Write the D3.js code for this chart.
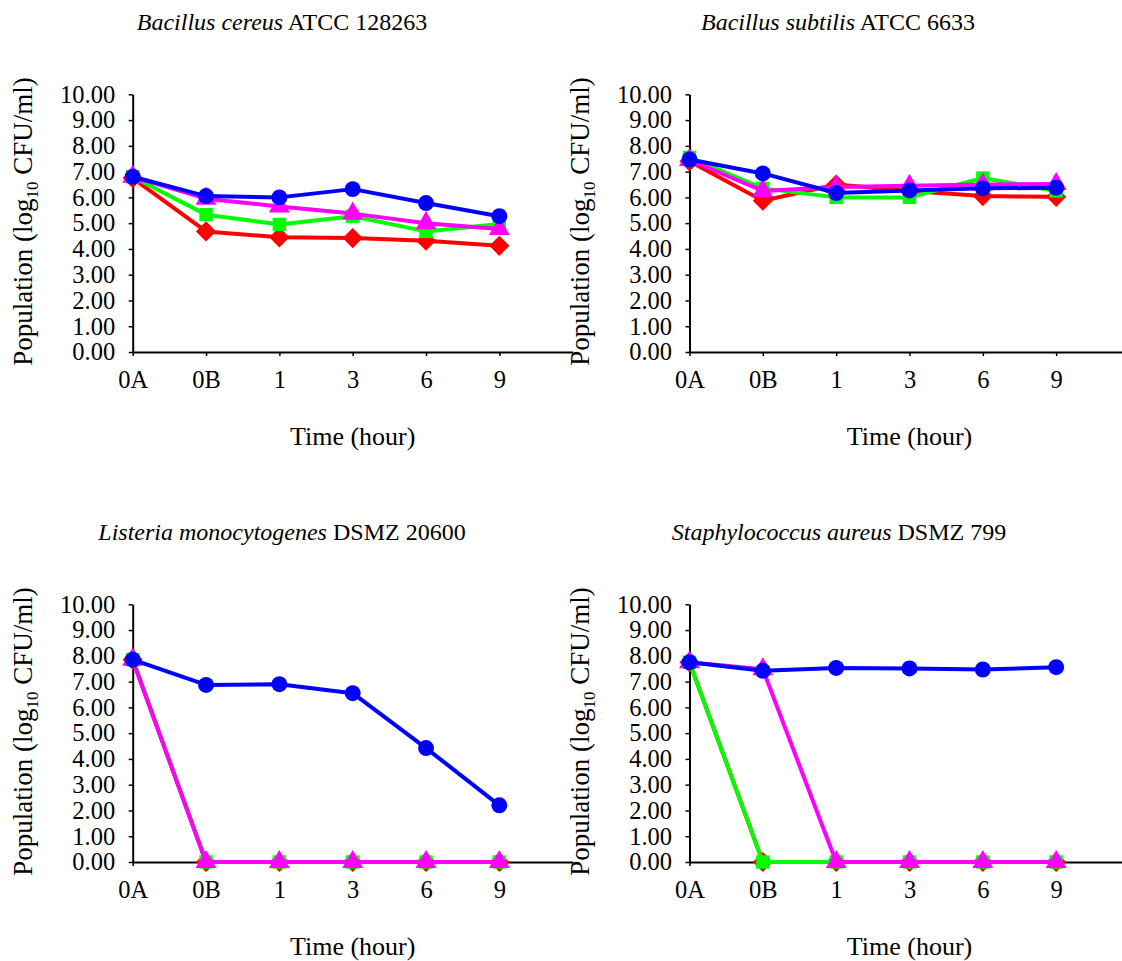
<!DOCTYPE html>
<html>
<head>
<meta charset="utf-8">
<script src="https://cdn.jsdelivr.net/npm/d3@7"></script>
<style>
  html, body { margin: 0; padding: 0; background: #fff; }
  svg text { font-family: "Liberation Serif", serif !important; fill: #000; }
</style>
</head>
<body>
<svg id="chart" width="1122" height="961"></svg>
<script>
// ---- Data ----
const categories = ["0A", "0B", "1", "3", "6", "9"];
const yTicks = [0, 1, 2, 3, 4, 5, 6, 7, 8, 9, 10];

const titlesItalic = ["Bacillus cereus", "Bacillus subtilis", "Listeria monocytogenes", "Staphylococcus aureus"];
const titlesPlain = [" ATCC 128263", " ATCC 6633", " DSMZ 20600", " DSMZ 799"];

// B. cereus ATCC 128263
const cereusRed     = [6.75, 4.68, 4.45, 4.42, 4.32, 4.12];
const cereusGreen   = [6.80, 5.33, 4.95, 5.27, 4.68, 4.97];
const cereusMagenta = [6.80, 5.95, 5.65, 5.37, 5.00, 4.77];
const cereusBlue    = [6.80, 6.05, 6.00, 6.32, 5.78, 5.27];

// B. subtilis ATCC 6633
const subtilisRed     = [7.40, 5.87, 6.50, 6.25, 6.05, 6.02];
const subtilisGreen   = [7.55, 6.35, 6.00, 6.00, 6.75, 6.25];
const subtilisMagenta = [7.45, 6.25, 6.40, 6.45, 6.50, 6.52];
const subtilisBlue    = [7.47, 6.93, 6.17, 6.27, 6.35, 6.37];

// L. monocytogenes DSMZ 20600
const listeriaRed     = [7.85, 0, 0, 0, 0, 0];
const listeriaGreen   = [7.85, 0, 0, 0, 0, 0];
const listeriaMagenta = [7.85, 0, 0, 0, 0, 0];
const listeriaBlue    = [7.85, 6.87, 6.90, 6.55, 4.42, 2.20];

// S. aureus DSMZ 799
const aureusRed     = [7.75, 0, 0, 0, 0, 0];
const aureusGreen   = [7.75, 0, 0, 0, 0, 0];
const aureusMagenta = [7.75, 7.48, 0, 0, 0, 0];
const aureusBlue    = [7.75, 7.42, 7.53, 7.51, 7.47, 7.56];

const panelSeries = [
  [cereusRed, cereusGreen, cereusMagenta, cereusBlue],
  [subtilisRed, subtilisGreen, subtilisMagenta, subtilisBlue],
  [listeriaRed, listeriaGreen, listeriaMagenta, listeriaBlue],
  [aureusRed, aureusGreen, aureusMagenta, aureusBlue]
];

const seriesColors = ["#FF0000", "#00FF00", "#FF00FF", "#0000FF"];
const seriesSymbols = [d3.symbolDiamond2, d3.symbolSquare, d3.symbolTriangle, d3.symbolCircle];
const symbolSizes = [260, 180, 190, 200];

// ---- Layout ----
const svg = d3.select("#chart");
const panels = [
  { x0: 132.7, y0: 352, titleCx: 282, titleY: 30 },
  { x0: 689.5, y0: 352, titleCx: 838, titleY: 30 },
  { x0: 132.7, y0: 862, titleCx: 282, titleY: 540 },
  { x0: 689.5, y0: 862, titleCx: 839, titleY: 540 }
];
const axisLen = 440;
const plotH = 257.7;

panels.forEach((p, pi) => {
  const g = svg.append("g");
  const x = d3.scaleLinear().domain([0, 6]).range([p.x0, p.x0 + axisLen]);
  const y = d3.scaleLinear().domain([0, 10]).range([p.y0, p.y0 - plotH]);

  // title
  const t = g.append("text")
    .attr("x", p.titleCx).attr("y", p.titleY)
    .attr("text-anchor", "middle")
    .style("font-size", "24px");
  t.append("tspan").style("font-style", "italic").text(titlesItalic[pi]);
  t.append("tspan").text(titlesPlain[pi]);

  // y axis
  const yAxis = d3.axisLeft(y).tickValues(yTicks).tickSize(4).tickSizeOuter(0)
    .tickPadding(13.5).tickFormat(d3.format(".2f"));
  const ya = g.append("g").attr("transform", `translate(${p.x0},0)`).call(yAxis);
  ya.attr("font-family", null).attr("font-size", null);
  ya.select(".domain").attr("stroke", "#000").attr("stroke-width", 2);
  ya.selectAll(".tick line").attr("stroke", "#000").attr("stroke-width", 1.5);
  ya.selectAll(".tick text").style("font-size", "24.5px");

  // x axis
  const xAxis = d3.axisBottom(x).tickValues(d3.range(categories.length)).tickSize(4)
    .tickSizeOuter(0).tickPadding(15).tickFormat(i => categories[i]);
  const xa = g.append("g").attr("transform", `translate(0,${p.y0})`).call(xAxis);
  xa.attr("font-family", null).attr("font-size", null);
  xa.select(".domain").attr("stroke", "#000").attr("stroke-width", 2);
  xa.selectAll(".tick line").attr("stroke", "#000").attr("stroke-width", 1.5);
  xa.selectAll(".tick text").style("font-size", "24.5px");

  // axis titles
  g.append("text")
    .attr("x", p.x0 + axisLen / 2).attr("y", p.y0 + 93)
    .attr("text-anchor", "middle")
    .style("font-size", "26px")
    .text("Time (hour)");

  const yl = g.append("text")
    .attr("transform", `translate(${p.x0 - 100.5},${p.y0 - 130.5}) rotate(-90)`)
    .attr("text-anchor", "middle")
    .style("font-size", "27px");
  yl.append("tspan").text("Population (log");
  yl.append("tspan").style("font-size", "17px").attr("dy", 6).text("10");
  yl.append("tspan").attr("dy", -6).text("  CFU/ml)");

  // series
  const line = d3.line().x((d, i) => x(i)).y(d => y(d));
  panelSeries[pi].forEach((vals, si) => {
    g.append("path")
      .datum(vals)
      .attr("fill", "none")
      .attr("stroke", seriesColors[si])
      .attr("stroke-width", 4)
      .attr("stroke-linejoin", "round")
      .attr("d", line);
    g.selectAll(null)
      .data(vals)
      .enter().append("path")
      .attr("transform", (d, i) => `translate(${x(i)},${y(d)})`)
      .attr("d", d3.symbol().type(seriesSymbols[si]).size(symbolSizes[si]))
      .attr("fill", seriesColors[si]);
  });
});
</script>
</body>
</html>
